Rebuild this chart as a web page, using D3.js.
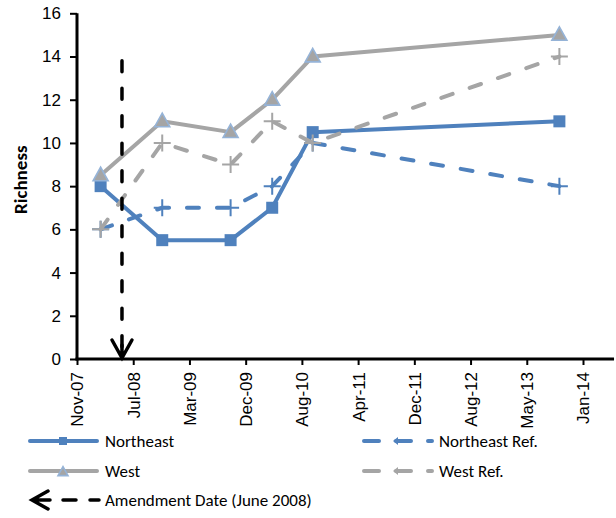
<!DOCTYPE html>
<html><head><meta charset="utf-8">
<script src="https://cdn.jsdelivr.net/npm/d3@7"></script>
<style>
html,body{margin:0;padding:0;background:#fff;}
svg{display:block;font-family:Carlito, Lato, "Liberation Sans", sans-serif;}
</style></head>
<body><svg id="c" width="616" height="518"></svg>
<script>
// ---- data ----
const sampleDates = ["2008-02-27","2008-11-27","2009-09-27","2010-03-31","2010-09-27","2013-09-28"];
const northeast    = [8, 5.5, 5.5, 7, 10.5, 11];
const northeastRef = [6, 7, 7, 8, 10, 8];
const west         = [8.5, 11, 10.5, 12, 14, 15];
const westRef      = [6, 10, 9, 11, 10, 14];
const amendmentDates  = ["2008-06-01","2008-06-01"];
const amendmentValues = [13.8, 0];
const tickDates  = ["2007-11-14","2008-07-21","2009-03-28","2009-12-03","2010-08-10","2011-04-17","2011-12-23","2012-08-29","2013-05-06","2014-01-11"];
const tickLabels = ["Nov-07","Jul-08","Mar-09","Dec-09","Aug-10","Apr-11","Dec-11","Aug-12","May-13","Jan-14"];
const axisEndDate = "2014-05-29";
const yTicks = [0,2,4,6,8,10,12,14,16];
const seriesNames = ["Northeast","Northeast Ref.","West","West Ref.","Amendment Date (June 2008)"];
const yTitle = "Richness";

// ---- setup ----
const parse = d3.timeParse("%Y-%m-%d");
const BLUE = "#4F81BD", GRAY = "#A5A5A5", TRI_EDGE = "#95B3D7";
const svg = d3.select("#c");
const x = d3.scaleTime().domain([parse(tickDates[0]), parse(tickDates[tickDates.length-1])]).range([77, 583]);
const y = d3.scaleLinear().domain([0,16]).range([359, 13.3]);

// axes
const yAx = svg.append("g").attr("transform","translate(77,0)")
  .call(d3.axisLeft(y).tickValues(yTicks).tickSize(7).tickSizeOuter(0).tickPadding(9));
yAx.select(".domain").remove();
yAx.selectAll(".tick line").attr("stroke","#000").attr("stroke-width",2);
yAx.selectAll("text").attr("font-size",17).attr("fill","#000").style("font-family","inherit");

const xAx = svg.append("g").attr("transform","translate(0,359)")
  .call(d3.axisBottom(x).tickValues(tickDates.map(parse)).tickFormat((d,i)=>tickLabels[i]).tickSize(6).tickSizeOuter(0));
xAx.select(".domain").remove();
xAx.selectAll(".tick line").attr("stroke","#000").attr("stroke-width",2);
xAx.selectAll("text").attr("font-size",17).attr("fill","#000").style("font-family","inherit")
  .attr("transform","rotate(-90)").attr("x",-13).attr("y",0).attr("dy","0.35em").style("text-anchor","end");

svg.append("line").attr("x1",77).attr("x2",77).attr("y1",y(16)).attr("y2",y(0)+1.5).attr("stroke","#000").attr("stroke-width",3);
svg.append("line").attr("x1",75.5).attr("x2",x(parse(axisEndDate))).attr("y1",y(0)).attr("y2",y(0)).attr("stroke","#000").attr("stroke-width",3);

svg.append("text").attr("transform",`translate(27,${y(8.3)}) rotate(-90)`).attr("text-anchor","middle")
  .attr("font-size",19).attr("font-weight","bold").text(yTitle);

// ---- series ----
const line = d3.line().x(d=>x(d[0])).y(d=>y(d[1]));
function pts(vals){ return sampleDates.map((d,i)=>[parse(d), vals[i]]); }

function square(g, cx, cy, s, col){ g.append("rect").attr("x",cx-s/2).attr("y",cy-s/2).attr("width",s).attr("height",s).attr("fill",col); }
function tri(g, cx, cy, s){ const h=s*0.9; g.append("path").attr("d",`M${cx},${cy-h*0.6}L${cx+s/2},${cy+h*0.4}L${cx-s/2},${cy+h*0.4}Z`).attr("fill",GRAY).attr("stroke",TRI_EDGE).attr("stroke-width",1.6); }
function plus(g, cx, cy, s, col){ g.append("path").attr("d",`M${cx-s/2},${cy}H${cx+s/2}M${cx},${cy-s/2}V${cy+s/2}`).attr("stroke",col).attr("stroke-width",2).attr("fill","none"); }

const series = [
  {vals: northeast,    col: BLUE, dash: null,   mark: "sq"},
  {vals: northeastRef, col: BLUE, dash: "12,18", mark: "plus"},
  {vals: west,         col: GRAY, dash: null,   mark: "tri"},
  {vals: westRef,      col: GRAY, dash: "12,18", mark: "plus"}
];
series.forEach(s=>{
  const g = svg.append("g");
  const p = pts(s.vals);
  const path = g.append("path").datum(p).attr("d",line).attr("fill","none").attr("stroke",s.col)
    .attr("stroke-width",4).attr("stroke-linejoin","round").attr("stroke-linecap","round");
  if (s.dash) path.attr("stroke-dasharray",s.dash);
  p.forEach(d=>{
    const cx=x(d[0]), cy=y(d[1]);
    if (s.mark==="sq") square(g,cx,cy,12,s.col);
    else if (s.mark==="tri") tri(g,cx,cy,15);
    else plus(g,cx,cy,17,s.col);
  });
});

// amendment arrow
const am = amendmentDates.map((d,i)=>[parse(d), amendmentValues[i]]);
const ag = svg.append("g");
ag.append("path").datum(am).attr("d",line).attr("stroke","#000").attr("stroke-width",3.5)
  .attr("stroke-dasharray","11,16.5").attr("stroke-linecap","round").attr("fill","none");
const ax0 = x(am[1][0]), ay0 = y(am[1][1]);
ag.append("path").attr("d",`M${ax0-10},${ay0-19}L${ax0},${ay0-1}L${ax0+10},${ay0-19}M${ax0},${ay0-1}V${ay0-14}`)
  .attr("stroke","#000").attr("stroke-width",3.5).attr("fill","none").attr("stroke-linejoin","miter").attr("stroke-linecap","round");

// ---- legend ----
const leg = svg.append("g").attr("font-size",17);
const legPos = [[28,441],[362,441],[28,471],[362,471],[28,500]];
seriesNames.forEach((name,i)=>{
  const [lx,ly] = legPos[i];
  const g = leg.append("g");
  if (i<4){
    const s = series[i];
    const l = g.append("line").attr("x1",lx+2).attr("x2",lx+69).attr("y1",ly).attr("y2",ly)
      .attr("stroke",s.col).attr("stroke-width",4).attr("stroke-linecap","round");
    if (s.dash) { l.attr("stroke-dasharray","15,17").attr("x1",lx+2).attr("x2",lx+70); }
    const cx = lx+35;
    if (s.mark==="sq") square(g,cx,ly,8,s.col);
    else if (s.mark==="tri") tri(g,cx,ly+1,10);
    else { g.append("path").attr("d",`M${cx-4},${ly}l5,-4v8z`).attr("fill",s.col); }
  } else {
    g.append("path").attr("d",`M${lx+20},${ly-9}L${lx+4},${ly}L${lx+20},${ly+9}M${lx+4},${ly}H${lx+22}`)
      .attr("stroke","#000").attr("stroke-width",3.5).attr("fill","none").attr("stroke-linecap","round");
    g.append("line").attr("x1",lx+35).attr("x2",lx+71).attr("y1",ly).attr("y2",ly).attr("stroke","#000")
      .attr("stroke-width",3.5).attr("stroke-dasharray","13,14").attr("stroke-linecap","round");
  }
  g.append("text").attr("x",lx+77).attr("y",ly).attr("dy","0.35em").text(name);
});
</script></body></html>
